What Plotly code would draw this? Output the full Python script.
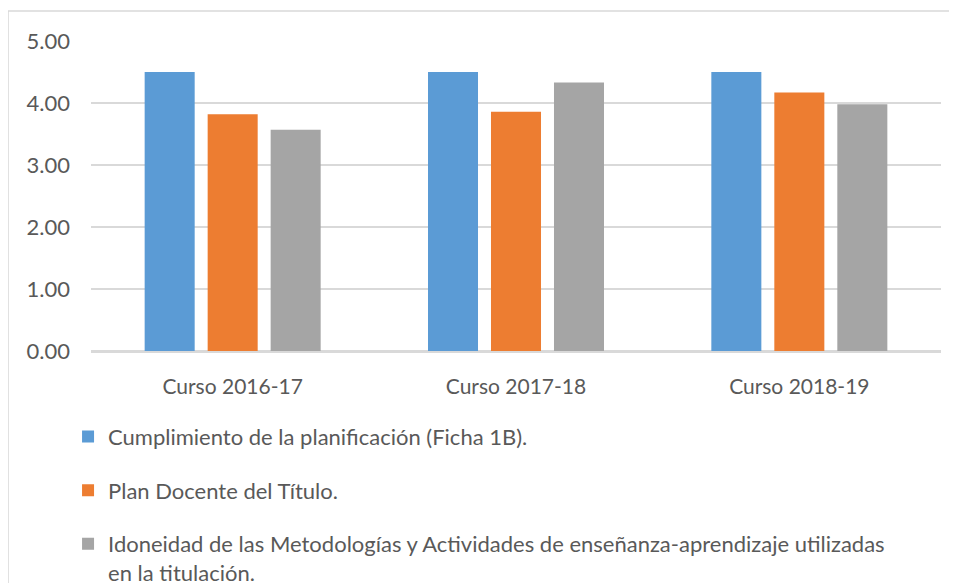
import plotly.graph_objects as go

# data
cursos = ["Curso 2016-17", "Curso 2017-18", "Curso 2018-19"]
cumplimiento = [4.50, 4.50, 4.50]
plan_docente = [3.82, 3.86, 4.17]
idoneidad = [3.57, 4.33, 3.98]
serie_nombres = [
    "Cumplimiento de la planificación (Ficha 1B).",
    "Plan Docente del Título.",
    "Idoneidad de las Metodologías y Actividades de enseñanza-aprendizaje utilizadas<br>en la titulación.",
]
y_ticks = [0, 1, 2, 3, 4, 5]

colores = ["#5B9BD5", "#ED7D31", "#A5A5A5"]
fam = "Lato, 'Open Sans', sans-serif"
font_txt = dict(family=fam, size=22, color="#595959")

fig = go.Figure()
for i, (nombre, valores) in enumerate(zip(serie_nombres, [cumplimiento, plan_docente, idoneidad])):
    fig.add_trace(go.Bar(
        x=cursos, y=valores, name=nombre,
        marker=dict(color=colores[i], line=dict(width=0)),
        legendgroup="g%d" % i,
    ))

# page body adds an 8px offset, margins account for it
fig.update_layout(
    width=957, height=583,
    margin=dict(l=83, r=24, t=33, b=240, autoexpand=False),
    paper_bgcolor="white", plot_bgcolor="white",
    barmode="group", bargap=0.333, bargroupgap=0.206,
    font=font_txt,
    showlegend=True,
    legend=dict(
        x=-0.027, y=-0.209, xanchor="left", yanchor="top",
        orientation="v", traceorder="grouped", tracegroupgap=22,
        valign="top", font=font_txt, bgcolor="rgba(0,0,0,0)",
    ),
)

fig.update_yaxes(
    range=[0, 5], tickvals=y_ticks, tickformat=".2f",
    showgrid=True, gridcolor="#D9D9D9", gridwidth=1.5,
    zeroline=True, zerolinecolor="#D9D9D9", zerolinewidth=1.5,
    showline=False, ticks="", ticklabelstandoff=20,
    tickfont=font_txt,
)
fig.update_xaxes(
    showline=True, linecolor="#D9D9D9", linewidth=1.5,
    ticks="", ticklabelstandoff=16, tickfont=dict(family=fam, size=21, color="#595959"),
)

# chart area border (cropped on the right and bottom in the reference)
fig.add_shape(type="rect", xref="paper", yref="paper",
              x0=-0.0976, x1=1.2, y0=-1.0, y1=1.0968,
              line=dict(color="#D9D9D9", width=1.5), layer="below")

fig.write_html("out.html")
